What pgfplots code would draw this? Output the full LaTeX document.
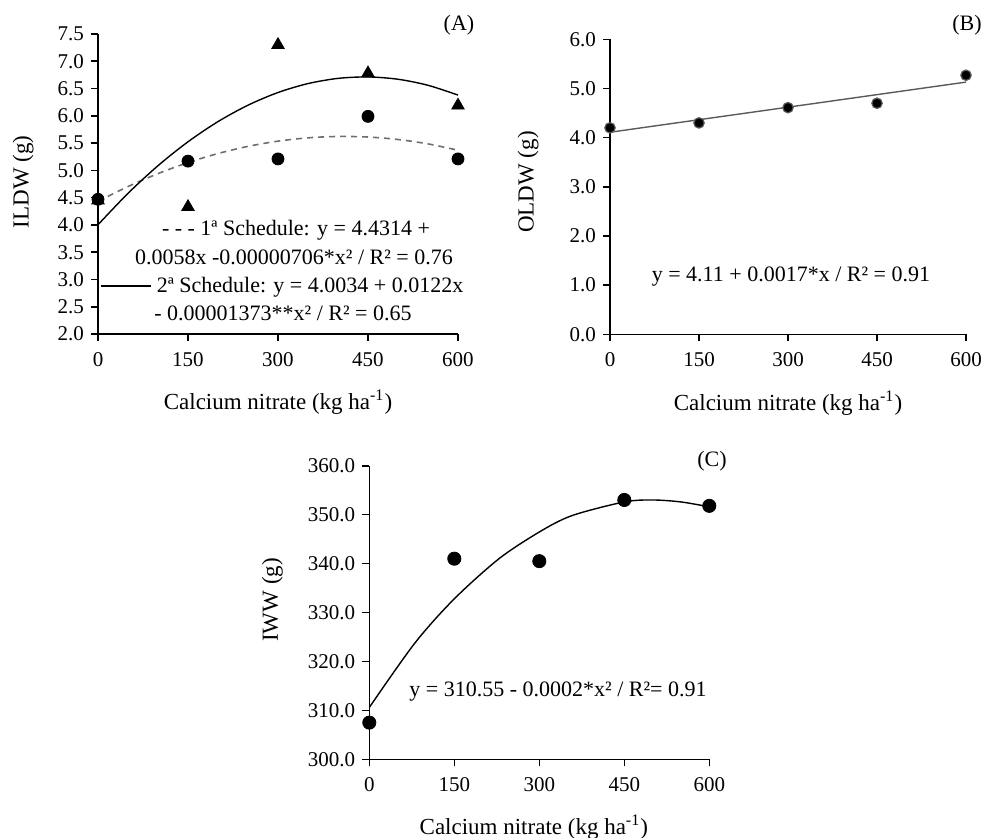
\documentclass[border=0pt]{standalone}
\usepackage{fontspec}
\setmainfont{Liberation Serif}
\usepackage{pgfplots}
\pgfplotsset{compat=1.18}

\definecolor{dashgray}{RGB}{110,110,110}
\definecolor{linegray}{RGB}{90,90,90}

\pgfplotsset{
  panel/.style={
    scale only axis, anchor=south west, clip=false,
    xmin=0, xmax=600, xtick={0,150,300,450,600},
    axis x line*=bottom, axis y line*=left,
    axis line style={line width=0.8pt},
    every tick/.style={black, line width=0.8pt},
    tick align=outside, major tick length=3.5pt,
    tick label style={font=\fontsize{10.5}{12}\selectfont},
    label style={font=\fontsize{11.5}{13}\selectfont},
    /pgf/number format/assume math mode=true,
    yticklabel style={/pgf/number format/.cd, fixed, fixed zerofill, precision=1},
    xticklabel style={yshift=-2pt, /pgf/number format/.cd, fixed, precision=0},
    xlabel={Calcium nitrate (kg ha\textsuperscript{-1})},
  },
}
\tikzset{note/.style={font=\fontsize{11}{13}\selectfont, anchor=center}}

\begin{document}
\begin{tikzpicture}
\useasboundingbox (0pt,0pt) rectangle (491.5pt,-418.5pt);

% (A)
\begin{axis}[panel, at={(49pt,-167pt)}, width=180pt, height=150pt,
  ymin=2, ymax=7.5, ytick={2,2.5,...,7.5},
  ylabel={ILDW (g)},
  ylabel style={at={(axis description cs:-0.208,0.507)}, anchor=center},
  xlabel style={at={(axis description cs:0.5,-0.227)}, anchor=center}]
\addplot[dashgray, line width=0.8pt, dash pattern=on 3pt off 2.5pt, smooth] coordinates {
  (0,4.4314) (50,4.7038) (100,4.9408) (150,5.1426) (200,5.3090) (250,5.4402)
  (300,5.5360) (350,5.5966) (400,5.6218) (450,5.6118) (500,5.5664) (550,5.4858) (600,5.3698)};
\addplot[black, line width=0.7pt, smooth] coordinates {
  (0,4.0034) (50,4.5791) (100,5.0861) (150,5.5245) (200,5.8942) (250,6.1953)
  (300,6.4277) (350,6.5915) (400,6.6866) (450,6.7131) (500,6.6709) (550,6.5601) (600,6.3806)};
\addplot[only marks, mark=*, mark size=3pt, black] coordinates {
  (0,4.47) (150,5.17) (300,5.21) (450,5.99) (600,5.21)};
\addplot[only marks, mark=triangle*, mark size=3.6pt, black] coordinates {
  (0,4.45) (150,4.33) (300,7.30) (450,6.78) (600,6.19)};
\node[note] at (axis cs:330,3.908) {- - - 1ª Schedule: y = 4.4314 +};
\node[note] at (axis cs:326.7,3.413) {0.0058x -0.00000706*x² / R² = 0.76};
\node[note] at (axis cs:306.7,2.862) {\rule[0.55ex]{2.3em}{0.7pt} 2ª Schedule: y = 4.0034 + 0.0122x};
\node[note] at (axis cs:308.3,2.385) {- 0.00001373**x² / R² = 0.65};
\node[note] at (axis cs:601.7,7.67) {(A)};
\end{axis}

% (B)
\begin{axis}[panel, at={(305pt,-167.15pt)}, width=178pt, height=147.5pt,
  ymin=0, ymax=6, ytick={0,1,...,6},
  ylabel={OLDW (g)},
  ylabel style={at={(axis description cs:-0.230,0.516)}, anchor=center},
  xlabel style={at={(axis description cs:0.5,-0.233)}, anchor=center}]
\addplot[linegray, line width=0.7pt] coordinates {(0,4.11) (600,5.13)};
\addplot[only marks, mark=*, mark size=2.6pt, black,
  mark options={draw=linegray, line width=0.6pt}] coordinates {
  (0,4.20) (150,4.30) (300,4.61) (450,4.70) (600,5.27)};
\node[note] at (axis cs:305,1.165) {y = 4.11 + 0.0017*x / R² = 0.91};
\node[note] at (axis cs:601.7,6.29) {(B)};
\end{axis}

% (C)
\begin{axis}[panel, at={(184.65pt,-379.65pt)}, width=170pt, height=146.8pt,
  ymin=300, ymax=360, ytick={300,310,...,360},
  ylabel={IWW (g)},
  ylabel style={at={(axis description cs:-0.285,0.543)}, anchor=center},
  xlabel style={at={(axis description cs:0.484,-0.231)}, anchor=center}]
\addplot[black, line width=0.7pt, smooth] coordinates {
  (0,310.6) (80,323.7) (150,332.8) (230,341.1) (305,346.8) (360,349.9)
  (450,352.6) (500,353.0) (550,352.6) (600,351.6)};
\addplot[only marks, mark=*, mark size=3.3pt, black] coordinates {
  (0,307.5) (150,341.0) (300,340.5) (450,353.0) (600,351.8)};
\node[note] at (axis cs:333,313.8) {y = 310.55 - 0.0002*x² / R²= 0.91};
\node[note] at (axis cs:604.8,361) {(C)};
\end{axis}
\end{tikzpicture}
\end{document}
